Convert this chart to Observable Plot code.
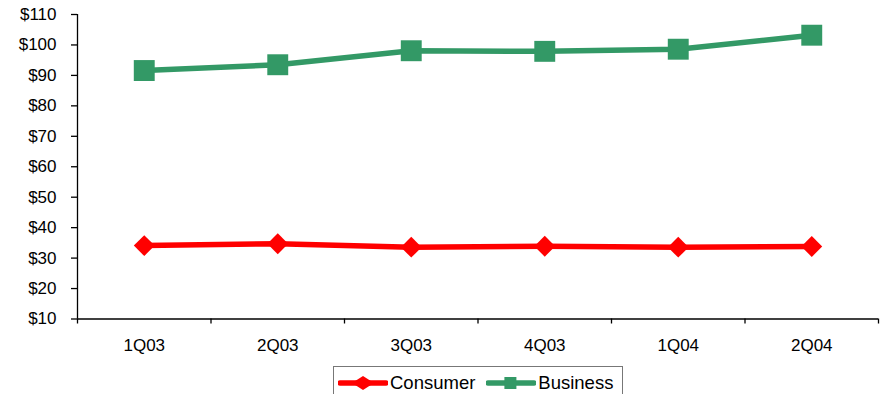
<!DOCTYPE html>
<html>
<head>
<meta charset="utf-8">
<script src="https://cdn.jsdelivr.net/npm/d3@7"></script>
<script src="https://cdn.jsdelivr.net/npm/@observablehq/plot@0.6"></script>
<style>
  body { margin: 0; background: #fff; font-family: "Liberation Sans", Arial, sans-serif; }
  #wrap { position: relative; width: 882px; height: 394px; overflow: hidden; }
  #chart svg text { font-size: 17px !important; fill: #000; }
  #legend { position: absolute; left: 333px; top: 366px; width: 288px; height: 32px; border: 1px solid #777; background: #fff;
            font-size: 18px; color: #000; display: flex; align-items: center; }
  #legend .item { display: flex; align-items: center; }
  #legend svg { display: block; }
</style>
</head>
<body>
<div id="wrap">
  <div id="chart"></div>
  <div id="legend"></div>
</div>
<script>
const categories = ["1Q03", "2Q03", "3Q03", "4Q03", "1Q04", "2Q04"];
const consumer = [34.1, 34.7, 33.6, 33.9, 33.6, 33.8];
const business = [91.6, 93.5, 98.1, 97.9, 98.6, 103.2];
const yTicks = [10, 20, 30, 40, 50, 60, 70, 80, 90, 100, 110];
const seriesNames = ["Consumer", "Business"];
const seriesColors = ["#FF0000", "#339966"];

const rows = [];
categories.forEach((c, i) => {
  rows.push({ i, cat: c, series: "Consumer", value: consumer[i] });
  rows.push({ i, cat: c, series: "Business", value: business[i] });
});
const cons = rows.filter(d => d.series === "Consumer");
const bus = rows.filter(d => d.series === "Business");
const bounds = d3.range(categories.length + 1).map(k => k - 0.5);

const chart = Plot.plot({
  width: 882,
  height: 360,
  marginLeft: 77,
  marginRight: 4,
  marginTop: 14,
  marginBottom: 41.5,
  style: { fontFamily: "'Liberation Sans', Arial, sans-serif", fontSize: "17px", color: "#000", background: "#fff" },
  x: { type: "linear", domain: [-0.5, categories.length - 0.5] },
  y: { domain: [10, 110] },
  marks: [
    Plot.axisY({ ticks: yTicks, tickSize: 6, tickPadding: 15, tickFormat: d => "$" + d, label: null, stroke: "#000", strokeWidth: 1.3 }),
    Plot.axisX({ ticks: bounds, tickSize: 5, tickFormat: () => "", label: null, stroke: "#000", strokeWidth: 1.3 }),
    Plot.axisX({ ticks: d3.range(categories.length), tickSize: 0, tickPadding: 20, tickFormat: i => categories[i], label: null }),
    Plot.ruleY([10], { stroke: "#000", strokeWidth: 1.3 }),
    Plot.ruleX([-0.5], { stroke: "#000", strokeWidth: 1.3 }),
    Plot.line(bus, { x: "i", y: "value", stroke: seriesColors[1], strokeWidth: 5.5 }),
    Plot.dot(bus, { x: "i", y: "value", symbol: "square", r: 11.8, fill: seriesColors[1], stroke: "none" }),
    Plot.line(cons, { x: "i", y: "value", stroke: seriesColors[0], strokeWidth: 5.5 }),
    Plot.dot(cons, { x: "i", y: "value", symbol: "diamond2", r: 9.4, fill: seriesColors[0], stroke: "none" })
  ]
});
document.getElementById("chart").appendChild(chart);

// Legend
const legend = document.getElementById("legend");
const swatchSym = [
  '<path d="M25,0 L36,10 L25,20 L14,10 Z" />',
  '<rect x="14" y="0" width="20" height="20" />'
];
seriesNames.forEach((name, k) => {
  const item = document.createElement("div");
  item.className = "item";
  item.style.marginLeft = k === 0 ? "4px" : "11px";
  item.innerHTML = `<svg width="50" height="20" viewBox="0 0 50 20">
      <line x1="2" y1="10" x2="48" y2="10" stroke="${seriesColors[k]}" stroke-width="5.5" stroke-linecap="round"/>
      <g fill="${seriesColors[k]}" transform="${k === 0 ? 'translate(0,3) scale(1,0.7)' : 'translate(10,4) scale(0.6)'}">${swatchSym[k]}</g>
    </svg><span style="margin-left:2px; font-size:18.5px">${name}</span>`;
  legend.appendChild(item);
});
</script>
</body>
</html>
